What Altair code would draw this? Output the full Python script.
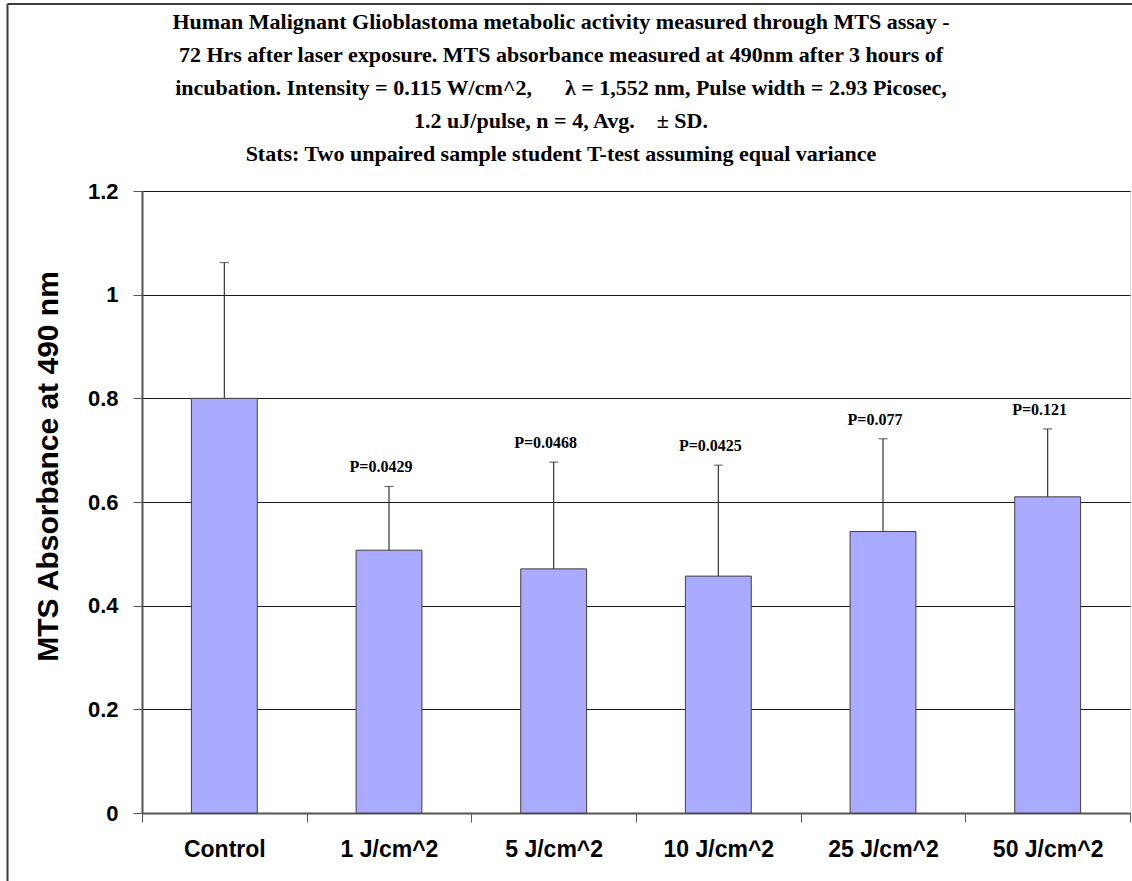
import altair as alt
import pandas as pd

# Treatment groups and MTS absorbance (mean, SD, n = 4)
groups = ["Control", "1 J/cm^2", "5 J/cm^2", "10 J/cm^2", "25 J/cm^2", "50 J/cm^2"]
means = [0.800, 0.507, 0.471, 0.457, 0.543, 0.610]
sds = [0.262, 0.123, 0.206, 0.214, 0.179, 0.131]
p_labels = ["", "P=0.0429", "P=0.0468", "P=0.0425", "P=0.077", "P=0.121"]
y_ticks = [0, 0.2, 0.4, 0.6, 0.8, 1.0, 1.2]

df = pd.DataFrame({"group": groups, "mean": means, "sd": sds, "p": p_labels})

title_lines = [
    "Human Malignant Glioblastoma metabolic activity measured through MTS assay -",
    "72 Hrs after laser exposure. MTS absorbance measured at 490nm after 3 hours of",
    "incubation. Intensity = 0.115 W/cm^2,\u00a0\u00a0\u00a0\u00a0\u00a0 \u03bb = 1,552 nm, Pulse width = 2.93 Picosec,",
    "1.2 uJ/pulse, n = 4, Avg.\u00a0\u00a0\u00a0 \u00b1 SD.",
    "Stats: Two unpaired sample student T-test assuming equal variance",
]

x_enc = alt.X(
    "group:N",
    sort=groups,
    scale=alt.Scale(paddingInner=0, paddingOuter=0),
    axis=alt.Axis(
        title=None,
        labelAngle=0,
        labelFont="Liberation Sans",
        labelFontWeight="bold",
        labelFontSize=23,
        labelColor="black",
        labelPadding=16,
        tickBand="extent",
        tickSize=9,
        tickColor="#555555",
        domainColor="#555555",
        domainWidth=2,
        grid=False,
    ),
)

y_scale = alt.Scale(domain=[0, 1.2], nice=False)

base = alt.Chart(df).transform_calculate(top="datum.mean + datum.sd")

bars = base.mark_bar(
    width=alt.RelativeBandSize(0.4),
    color="#AAAAFF",
    stroke="#404040",
    strokeWidth=1,
).encode(
    x=x_enc,
    y=alt.Y(
        "mean:Q",
        scale=y_scale,
        axis=alt.Axis(
            values=y_ticks,
            title="MTS Absorbance at 490 nm",
            titleFont="Liberation Sans",
            titleFontWeight="bold",
            titleFontSize=30,
            titleColor="black",
            titleX=-94,
            titleY=275,
            titleAlign="center",
            titleBaseline="middle",
            labelFont="Liberation Sans",
            labelFontWeight="bold",
            labelFontSize=22,
            labelColor="black",
            labelPadding=15,
            labelExpr="datum.value == 0 || datum.value == 1 ? format(datum.value, 'd') : format(datum.value, '.1f')",
            tickSize=9,
            tickColor="#555555",
            domainColor="#555555",
            domainWidth=2,
            grid=True,
            gridColor="#1a1a1a",
            gridWidth=1,
        ),
    ),
)

err = base.mark_rule(color="#333333", strokeWidth=1.2).encode(
    x=alt.X("group:N", sort=groups),
    y=alt.Y("mean:Q", scale=y_scale),
    y2="top:Q",
)

caps = base.mark_tick(color="#333333", thickness=1.2, size=9, orient="horizontal").encode(
    x=alt.X("group:N", sort=groups),
    y=alt.Y("top:Q", scale=y_scale),
)

plabels = base.mark_text(
    font="Liberation Serif",
    fontWeight="bold",
    fontSize=16,
    color="black",
    dx=-8,
    dy=-19,
    baseline="middle",
).encode(
    x=alt.X("group:N", sort=groups),
    y=alt.Y("top:Q", scale=y_scale),
    text="p:N",
)

single = alt.Data(values=[{"k": 0}])

# Multi-line heading, centred across the whole figure
heading = alt.Chart(single).mark_text(
    text=title_lines,
    font="Liberation Serif",
    fontWeight="bold",
    fontSize=22,
    lineHeight=33,
    color="black",
    align="center",
    baseline="alphabetic",
).encode(x=alt.value(419), y=alt.value(-162))

# Outer figure frame (top and left edges)
frame_top = alt.Chart(single).mark_rule(color="#3a3a3a", strokeWidth=2).encode(
    x=alt.value(-134.5), x2=alt.value(990), y=alt.value(-187)
)
frame_left = alt.Chart(single).mark_rule(color="#3a3a3a", strokeWidth=2).encode(
    x=alt.value(-134.5), y=alt.value(-187), y2=alt.value(690)
)

chart = alt.layer(bars, err, caps, plabels, heading, frame_top, frame_left).properties(
    width=988,
    height=622,
    autosize=alt.AutoSizeParams(type="none"),
    padding={"left": 142, "top": 191, "right": 2, "bottom": 68},
).configure_view(
    stroke="#808080", strokeWidth=1
).configure(background="white")

chart.save("out.html", embed_options={"renderer": "svg", "actions": False})
